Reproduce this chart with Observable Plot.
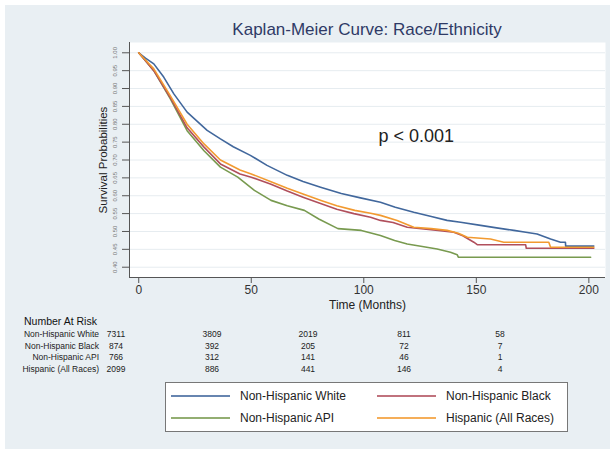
<!DOCTYPE html>
<html>
<head>
<meta charset="utf-8">
<script src="https://cdn.jsdelivr.net/npm/d3@7"></script>
<script src="https://cdn.jsdelivr.net/npm/@observablehq/plot@0.6"></script>
<style>
  body { margin: 0; background: white; font-family: "Liberation Sans", Arial, Helvetica, sans-serif; }
  #fig { position: relative; width: 615px; height: 450px; background: white; overflow: hidden; }
  .abs { position: absolute; white-space: nowrap; }
</style>
</head>
<body>
<div id="fig"></div>
<script>
// ---- data ----
const seriesNames = ["Non-Hispanic White", "Non-Hispanic Black", "Non-Hispanic API", "Hispanic (All Races)"];
const seriesColors = ["#41679c", "#b04f5c", "#789a4f", "#f29a30"];

const whiteT = [0, 3, 6.7, 11.1, 15.6, 21.5, 30.4, 36.3, 42, 49.6, 57, 66, 73, 80.8, 90, 98.5, 107.4, 114, 122.2, 130, 137, 143, 151.9, 159, 166.7, 172, 177, 183, 187.4, 189.6, 189.7, 202.2];
const whiteS = [1.0, 0.985, 0.969, 0.932, 0.885, 0.834, 0.783, 0.759, 0.737, 0.713, 0.685, 0.657, 0.64, 0.624, 0.606, 0.594, 0.582, 0.568, 0.554, 0.542, 0.531, 0.526, 0.517, 0.51, 0.503, 0.498, 0.493, 0.479, 0.470, 0.470, 0.459, 0.459];

const blackT = [0, 3, 6.7, 14, 21.5, 29, 36.3, 45, 50, 58.5, 66, 73, 80.8, 88, 95.6, 103, 107.4, 113, 119.3, 126.7, 133, 140, 144, 148.9, 150.4, 161, 171.9, 172.2, 202.2];
const blackS = [1.0, 0.978, 0.95, 0.875, 0.79, 0.736, 0.689, 0.661, 0.652, 0.633, 0.613, 0.596, 0.578, 0.562, 0.55, 0.54, 0.531, 0.525, 0.512, 0.507, 0.503, 0.498, 0.488, 0.470, 0.463, 0.463, 0.463, 0.453, 0.453];

const apiT = [0, 3, 6.7, 14, 21.5, 29, 36.3, 44, 51.4, 58.8, 66, 73.6, 80, 88.5, 98.9, 107.4, 113.7, 119.3, 126, 132.6, 138.5, 141.5, 142, 200.8];
const apiS = [1.0, 0.978, 0.95, 0.872, 0.782, 0.726, 0.68, 0.652, 0.615, 0.587, 0.572, 0.559, 0.535, 0.508, 0.503, 0.489, 0.475, 0.465, 0.458, 0.451, 0.442, 0.435, 0.428, 0.428];

const hispT = [0, 3, 6.7, 14, 21.5, 29, 36.3, 45, 50, 58.5, 66, 73, 81, 88, 96, 103, 107.4, 114.8, 122.2, 130, 137, 142, 146, 156.3, 162.2, 170, 182.2, 183, 202.2];
const hispS = [1.0, 0.98, 0.955, 0.88, 0.80, 0.745, 0.70, 0.672, 0.661, 0.64, 0.621, 0.605, 0.587, 0.572, 0.559, 0.551, 0.545, 0.531, 0.512, 0.508, 0.503, 0.495, 0.484, 0.479, 0.470, 0.470, 0.470, 0.456, 0.456];

const xTicks = [0, 50, 100, 150, 200];
const yTicks = [0.40, 0.45, 0.50, 0.55, 0.60, 0.65, 0.70, 0.75, 0.80, 0.85, 0.90, 0.95, 1.00];

const riskTimes = [0, 50, 100, 150, 200];
const riskWhite = [7311, 3809, 2019, 811, 58];
const riskBlack = [874, 392, 205, 72, 7];
const riskAPI = [766, 312, 141, 46, 1];
const riskHisp = [2099, 886, 441, 146, 4];

const titleText = "Kaplan-Meier Curve: Race/Ethnicity";
const pText = "p < 0.001";
const pPos = {t: 106.5, s: 0.766};

// ---- build ----
const FONT = '"Liberation Sans", Arial, Helvetica, sans-serif';
const fig = document.getElementById("fig");

const panel = document.createElement("div");
panel.className = "abs";
Object.assign(panel.style, {left: "5px", top: "5px", width: "605px", height: "444px", background: "#e9eff3"});
fig.appendChild(panel);

const xDom = [-4.1, 207.4];
const yDom = [0.3712, 1.0288];

const curves = [
  {name: seriesNames[2], t: apiT, s: apiS},
  {name: seriesNames[0], t: whiteT, s: whiteS},
  {name: seriesNames[1], t: blackT, s: blackS},
  {name: seriesNames[3], t: hispT, s: hispS}
];
const lineData = curves.flatMap(c => c.t.map((t, i) => ({name: c.name, t, s: c.s[i]})));

const plot = Plot.plot({
  width: 615,
  height: 315,
  marginLeft: 129,
  marginRight: 10,
  marginTop: 42,
  marginBottom: 38,
  style: {background: "none", fontFamily: FONT, overflow: "visible"},
  x: {domain: xDom},
  y: {domain: yDom},
  color: {domain: seriesNames, range: seriesColors},
  marks: [
    Plot.frame({fill: "white"}),
    Plot.gridY(yTicks, {stroke: "#e6ecf0", strokeOpacity: 1, strokeWidth: 1}),
    Plot.axisX(xTicks, {tickSize: 6, tickPadding: 2, fontSize: 12, stroke: "#555", fill: "#333", label: null, tickFormat: d => d}),
    Plot.axisY(yTicks, {tickSize: 7, stroke: "#555", tickFormat: () => "", label: null}),
    Plot.text(yTicks, {x: xDom[0], y: d => d, text: d => d.toFixed(2), rotate: -90, dx: -14, fontSize: 6, fill: "#777"}),
    Plot.ruleX([xDom[0]], {stroke: "#555", strokeWidth: 1}),
    Plot.ruleY([yDom[0]], {stroke: "#555", strokeWidth: 1}),
    Plot.line(lineData, {x: "t", y: "s", z: "name", stroke: "name", strokeWidth: 1.6}),
    Plot.text([pText], {x: pPos.t, y: pPos.s, text: d => d, textAnchor: "start", fontSize: 18, fill: "#222"}),
    Plot.text(["Time (Months)"], {frameAnchor: "bottom", textAnchor: "middle", text: d => d, dy: 31, fontSize: 12, fill: "#222"}),
    Plot.text(["Survival Probabilities"], {frameAnchor: "left", textAnchor: "middle", text: d => d, rotate: -90, dx: -26, fontSize: 11.5, fill: "#222"})
  ]
});
plot.style.position = "absolute";
plot.style.left = "0px";
plot.style.top = "0px";
fig.appendChild(plot);

// title
const title = document.createElement("div");
title.className = "abs";
title.textContent = titleText;
Object.assign(title.style, {left: "129px", width: "476px", top: "20px", lineHeight: "20px", textAlign: "center", fontSize: "17px", color: "#2f3a66"});
fig.appendChild(title);

// number at risk table
function addText(txt, left, top, opts) {
  const d = document.createElement("div");
  d.className = "abs";
  d.textContent = txt;
  Object.assign(d.style, {left: left + "px", top: top + "px"}, opts);
  fig.appendChild(d);
  return d;
}
addText("Number At Risk", 24, 315, {fontSize: "10.5px", lineHeight: "13px", color: "#111"});
const riskX = d3.scaleLinear([0, 200], [116, 500]);
const riskRows = [riskWhite, riskBlack, riskAPI, riskHisp];
const rowY = [334.3, 345.7, 357.3, 368.5];
riskRows.forEach((row, r) => {
  addText(seriesNames[r], 0, rowY[r] - 6, {width: "99px", textAlign: "right", fontSize: "8.5px", lineHeight: "12px", color: "#222"});
  row.forEach((v, i) => {
    addText(String(v), riskX(riskTimes[i]) - 30, rowY[r] - 6, {width: "60px", textAlign: "center", fontSize: "8.5px", lineHeight: "12px", color: "#222"});
  });
});

// legend
const legend = document.createElement("div");
legend.className = "abs";
Object.assign(legend.style, {left: "165px", top: "382px", width: "401px", height: "48px", background: "white", border: "1px solid #777"});
fig.appendChild(legend);
const legPos = [[171, 396], [377, 396], [171, 418], [377, 418]];
seriesNames.forEach((n, i) => {
  const [lx, ly] = legPos[i];
  const ln = document.createElement("div");
  ln.className = "abs";
  Object.assign(ln.style, {left: lx + "px", top: (ly - 1) + "px", width: "59px", height: "2px", background: seriesColors[i], opacity: 0.8});
  fig.appendChild(ln);
  addText(n, lx + 69, ly - 8, {fontSize: "12px", lineHeight: "16px", color: "#222"});
});
</script>
</body>
</html>
